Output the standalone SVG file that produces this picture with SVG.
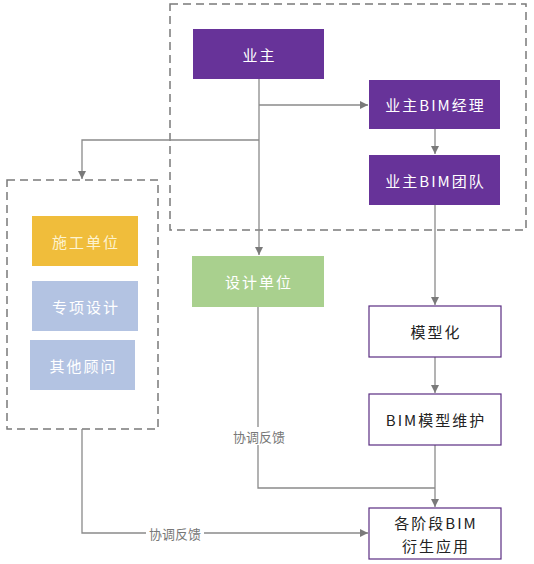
<svg xmlns="http://www.w3.org/2000/svg" width="534" height="564" viewBox="0 0 534 564">
<style>
text{font-family:"Noto Sans CJK SC","Liberation Sans",sans-serif;text-anchor:middle;dominant-baseline:central;font-size:15px;letter-spacing:2px}
.p{fill:#673399}
.pt{fill:#fff}
.w{fill:#fff;stroke:#5a2d82;stroke-width:1.2}
.wt{fill:#222}
.c{fill:none;stroke:#8a8a8a;stroke-width:1.3}
.d{fill:none;stroke:#7a7a7a;stroke-width:1.5;stroke-dasharray:8 5}
.lb{fill:#777;font-size:13px;letter-spacing:0}
</style>
<defs>
<marker id="a" viewBox="0 0 10 10" refX="10" refY="5" markerWidth="8" markerHeight="8" markerUnits="userSpaceOnUse" orient="auto"><path d="M0,0L10,5L0,10z" fill="#7a7a7a"/></marker>
</defs>
<rect width="534" height="564" fill="#fff"/>
<g id="groups">
<rect class="d" x="170" y="4" width="356" height="226"/>
<rect class="d" x="7" y="180" width="151" height="249"/>
</g>
<g id="connectors">
<path class="c" d="M259,79V255" marker-end="url(#a)"/>
<path class="c" d="M259,105H368" marker-end="url(#a)"/>
<path class="c" d="M259,140H82V179" marker-end="url(#a)"/>
<path class="c" d="M435,129V154" marker-end="url(#a)"/>
<path class="c" d="M435,205V305" marker-end="url(#a)"/>
<path class="c" d="M435,357V393" marker-end="url(#a)"/>
<path class="c" d="M435,445V507" marker-end="url(#a)"/>
<path class="c" d="M258,307V488H435"/>
<path class="c" d="M82,429V533H368" marker-end="url(#a)"/>
<rect x="230" y="427" width="58" height="18" fill="#fff"/>
<text class="lb" x="259" y="436">协调反馈</text>
<rect x="146" y="524" width="58" height="18" fill="#fff"/>
<text class="lb" x="175" y="533">协调反馈</text>
</g>
<g id="yezhu"><rect class="p" x="193" y="29" width="131" height="50"/><text class="pt" x="259.5" y="54">业主</text></g>
<g id="bim-manager"><rect class="p" x="369" y="80" width="131" height="49"/><text class="pt" x="435.5" y="104.5">业主BIM经理</text></g>
<g id="bim-team"><rect class="p" x="369" y="155" width="131" height="50"/><text class="pt" x="435.5" y="180">业主BIM团队</text></g>
<g id="construction"><rect x="32" y="216" width="106" height="50" fill="#f0bd3b"/><text x="86" y="241" fill="#fdf3cf">施工单位</text></g>
<g id="special-design"><rect x="32" y="281" width="106" height="50" fill="#b3c3e2"/><text x="86" y="306" fill="#fff">专项设计</text></g>
<g id="consultants"><rect x="30" y="340" width="105" height="50" fill="#b3c3e2"/><text x="83.5" y="365" fill="#fff">其他顾问</text></g>
<g id="design"><rect x="192" y="256" width="132" height="51" fill="#a9d08e"/><text x="259" y="281.5" fill="#fff">设计单位</text></g>
<g id="modeling"><rect class="w" x="369" y="306" width="132" height="51"/><text class="wt" x="436" y="331.5">模型化</text></g>
<g id="maintenance"><rect class="w" x="369" y="394" width="132" height="51"/><text class="wt" x="436" y="419.5">BIM模型维护</text></g>
<g id="applications"><rect class="w" x="369" y="508" width="132" height="51"/><text class="wt" x="436" y="522">各阶段BIM</text><text class="wt" x="436" y="545">衍生应用</text></g>
</svg>
